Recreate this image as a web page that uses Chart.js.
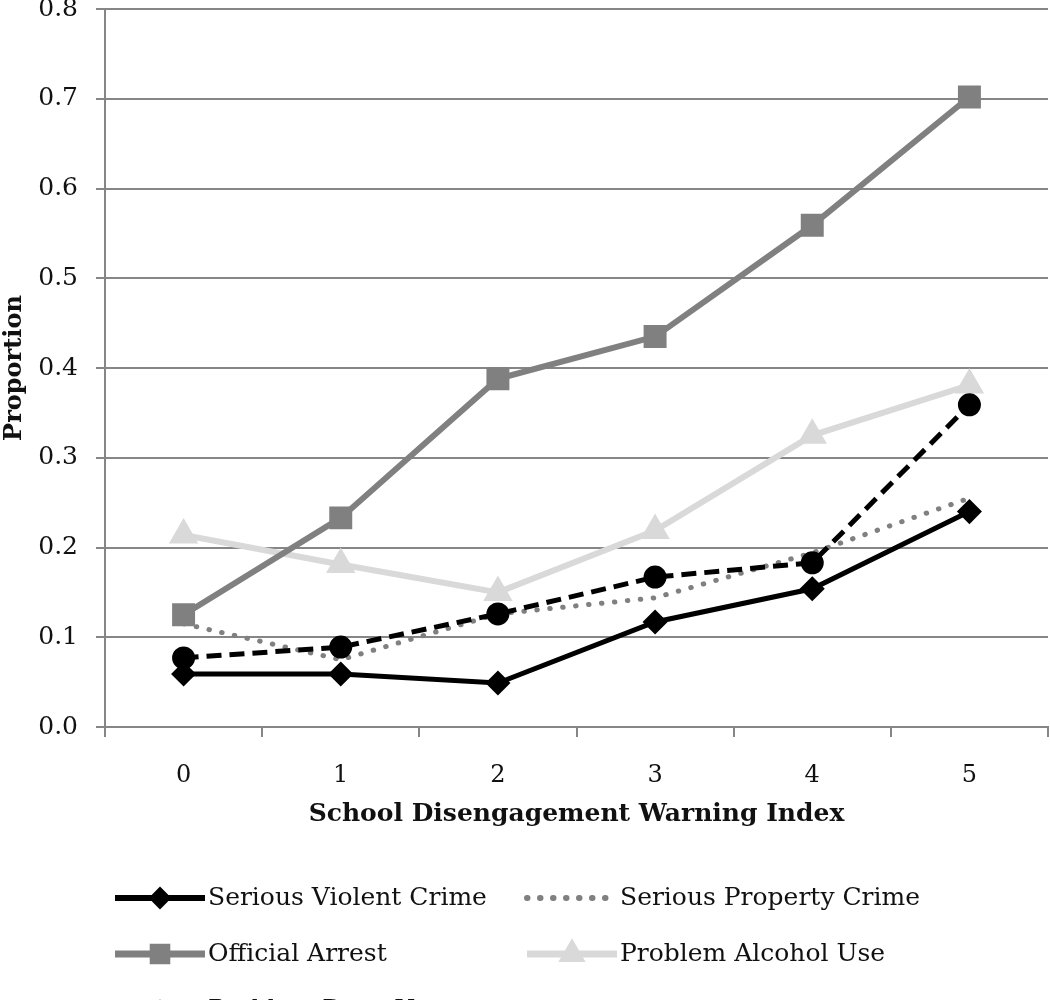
<!DOCTYPE html>
<html>
<head>
<meta charset="utf-8">
<script src="https://cdn.jsdelivr.net/npm/chart.js@4/dist/chart.umd.min.js"></script>
<style>
  body { margin: 0; overflow: hidden; background: #fff; }
  #wrap { position: absolute; left: 0; top: -24px; width: 1066px; height: 1060px; }
</style>
</head>
<body>
<div id="wrap"><canvas id="chart"></canvas></div>
<script>
const indexLabels = ['0', '1', '2', '3', '4', '5'];
const violentCrime = [0.059, 0.059, 0.049, 0.117, 0.154, 0.240];
const propertyCrime = [0.115, 0.075, 0.126, 0.144, 0.194, 0.255];
const officialArrest = [0.125, 0.233, 0.388, 0.435, 0.559, 0.702];
const alcoholUse = [0.214, 0.181, 0.150, 0.219, 0.325, 0.381];
const drugUse = [0.077, 0.089, 0.126, 0.167, 0.183, 0.359];

const serif = '"DejaVu Serif", "Liberation Serif", serif';
const axisGray = '#868686';

// legend in a 2-column grid under the chart, line sample + marker like the original
const gridLegend = {
    id: 'gridLegend',
    afterDraw(chart) {
        const ctx = chart.ctx;
        const colX = [115, 527];
        const rowY = [922, 978, 1034];
        chart.data.datasets.forEach((ds, i) => {
            const x = colX[i % 2];
            const y = rowY[Math.floor(i / 2)];
            ctx.save();
            ctx.strokeStyle = ds.borderColor;
            ctx.lineWidth = ds.borderWidth + 1;
            ctx.setLineDash(ds.borderDash || []);
            ctx.lineCap = ds.borderCapStyle || 'butt';
            ctx.beginPath();
            ctx.moveTo(x, y);
            ctx.lineTo(x + 90, y);
            ctx.stroke();
            if (ds.pointRadius) {
                ctx.setLineDash([]);
                ctx.fillStyle = ds.pointBackgroundColor;
                ctx.strokeStyle = ds.pointBorderColor;
                Chart.helpers.drawPoint(ctx, {
                    pointStyle: ds.pointStyle,
                    radius: ds.pointRadius * 0.8,
                    borderWidth: 1
                }, x + 45, y);
            }
            ctx.fillStyle = '#111';
            ctx.font = '25px ' + serif;
            ctx.textBaseline = 'middle';
            ctx.fillText(ds.label, x + 93, y);
            ctx.restore();
        });
    }
};

new Chart('chart', {
    type: 'line',
    data: {
        labels: indexLabels,
        datasets: [
            {
                label: 'Serious Violent Crime',
                data: violentCrime,
                borderColor: '#000',
                borderWidth: 5,
                pointStyle: 'rectRot',
                pointRadius: 9,
                pointBackgroundColor: '#000',
                pointBorderColor: '#000',
                order: 1
            },
            {
                label: 'Serious Property Crime',
                data: propertyCrime,
                borderColor: '#808080',
                borderWidth: 5,
                borderDash: [0.5, 12.5],
                borderCapStyle: 'round',
                pointRadius: 0,
                order: 3
            },
            {
                label: 'Official Arrest',
                data: officialArrest,
                borderColor: '#808080',
                borderWidth: 6,
                pointStyle: 'rect',
                pointRadius: 12,
                pointBackgroundColor: '#808080',
                pointBorderColor: '#808080',
                order: 4
            },
            {
                label: 'Problem Alcohol Use',
                data: alcoholUse,
                borderColor: '#d9d9d9',
                borderWidth: 6,
                pointStyle: 'triangle',
                pointRadius: 11,
                pointBackgroundColor: '#d9d9d9',
                pointBorderColor: '#d9d9d9',
                order: 5
            },
            {
                label: 'Problem Drug Use',
                data: drugUse,
                borderColor: '#000',
                borderWidth: 5,
                borderDash: [15, 8],
                pointStyle: 'circle',
                pointRadius: 9,
                pointBackgroundColor: '#000',
                pointBorderColor: '#000',
                order: 2
            }
        ]
    },
    options: {
        responsive: true,
        maintainAspectRatio: false,
        animation: false,
        layout: { padding: { left: 0, right: 0, top: 0, bottom: 207 } },
        plugins: {
            legend: { display: false },
            tooltip: { enabled: false }
        },
        elements: { line: { tension: 0 } },
        scales: {
            x: {
                offset: true,
                afterFit: scale => { scale.height = 102; },
                grid: {
                    offset: true,
                    drawOnChartArea: false,
                    color: axisGray,
                    lineWidth: 2,
                    tickLength: 10
                },
                border: { color: axisGray, width: 2 },
                ticks: {
                    color: '#111',
                    padding: 24,
                    font: { family: serif, size: 24 }
                },
                title: {
                    display: true,
                    text: 'School Disengagement Warning Index',
                    color: '#111',
                    padding: { top: 0, bottom: 0 },
                    font: { family: serif, size: 25, weight: 'bold' }
                }
            },
            y: {
                min: 0,
                max: 0.8,
                afterFit: scale => { scale.width = 105; },
                grid: {
                    color: axisGray,
                    lineWidth: 2,
                    tickLength: 9
                },
                border: { color: axisGray, width: 2 },
                ticks: {
                    stepSize: 0.1,
                    color: '#111',
                    padding: 18,
                    font: { family: serif, size: 25 },
                    callback: value => value.toFixed(1)
                },
                title: {
                    display: true,
                    text: 'Proportion',
                    color: '#111',
                    padding: { top: 0, bottom: 0 },
                    font: { family: serif, size: 24, weight: 'bold' }
                }
            }
        }
    },
    plugins: [gridLegend]
});
</script>
</body>
</html>
